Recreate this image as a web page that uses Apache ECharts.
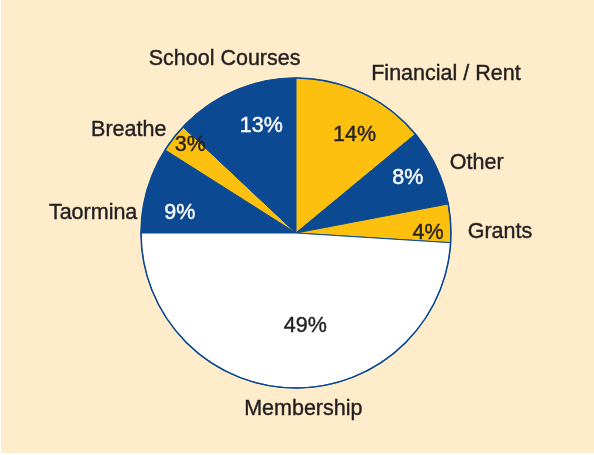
<!DOCTYPE html>
<html lang="en">
<head>
    <meta charset="UTF-8">
    <title>Income sources</title>
    <style>
        html, body {
            margin: 0;
            padding: 0;
            background: #ffffff;
        }
        #main {
            position: absolute;
            left: 1px;
            top: 0;
            width: 593px;
            height: 453px;
        }
    </style>
    <script src="https://cdn.jsdelivr.net/npm/echarts@6/dist/echarts.min.js"></script>
</head>
<body>

    <div id="main"></div>

    <script>
        // data, clockwise from 9 o'clock
        let names = ['Taormina', 'Breathe', 'School Courses', 'Financial / Rent', 'Other', 'Grants', 'Membership'];
        let shares = [9, 3, 13, 14, 8, 4, 49];

        let blue = '#0b4a93';
        let yellow = '#fdc00f';
        let fills = [blue, yellow, blue, yellow, blue, yellow, '#ffffff'];
        let ink = '#231f20';

        // where the labels sit: [angle in degrees, distance from centre]
        let pctSpots = [[169.7, 118], [140, 138], [107.9, 113], [59.4, 115], [26.6, 125], [0.6, 132], [-84.3, 93]];
        let nameSpots = [[174, 204], [148.1, 197], [112.2, 189], [46.8, 219], [21.3, 194], [0.5, 204], [-87.6, 175]];

        let cx = 295, cy = 233, R = 155;
        let font = 'Liberation Sans, Arial, Helvetica, sans-serif';

        function place(spots) {
            return function (params) {
                let s = spots[params.dataIndex];
                let a = s[0] * Math.PI / 180;
                return {
                    x: cx + s[1] * Math.cos(a),
                    y: cy - s[1] * Math.sin(a) + 1,
                    align: 'center',
                    verticalAlign: 'middle'
                };
            };
        }

        let chartDom = document.getElementById('main');
        let myChart = echarts.init(chartDom);

        let option = {
            backgroundColor: '#feecca',
            animation: false,
            series: [{
                type: 'pie',
                center: [cx, cy],
                radius: R,
                startAngle: 180,
                clockwise: true,
                avoidLabelOverlap: false,
                silent: true,
                itemStyle: {
                    borderColor: blue,
                    borderWidth: 1
                },
                label: {
                    position: 'inside',
                    fontFamily: font,
                    fontSize: 21.5,
                    formatter: '{c}%'
                },
                labelLine: { show: false },
                labelLayout: place(pctSpots),
                data: names.map(function (n, i) {
                    let c = fills[i] === blue ? '#ffffff' : ink;
                    return {
                        name: n,
                        value: shares[i],
                        itemStyle: { color: fills[i] },
                        label: { color: c, textBorderColor: c, textBorderWidth: 0.4 }
                    };
                })
            }, {
                type: 'pie',
                center: [cx, cy],
                radius: R,
                startAngle: 180,
                clockwise: true,
                avoidLabelOverlap: false,
                silent: true,
                itemStyle: { color: 'transparent' },
                label: {
                    position: 'outside',
                    fontFamily: font,
                    fontSize: 21.5,
                    color: ink,
                    textBorderColor: ink,
                    textBorderWidth: 0.4,
                    formatter: '{b}'
                },
                labelLine: { show: false },
                labelLayout: place(nameSpots),
                data: names.map(function (n, i) {
                    return { name: n, value: shares[i] };
                })
            }, {
                // outline of the whole disc
                type: 'pie',
                center: [cx, cy],
                radius: R,
                silent: true,
                label: { show: false },
                itemStyle: {
                    color: 'transparent',
                    borderColor: blue,
                    borderWidth: 1.5
                },
                data: [{ name: 'rim', value: 1 }]
            }]
        };

        option && myChart.setOption(option);
    </script>

</body>
</html>
